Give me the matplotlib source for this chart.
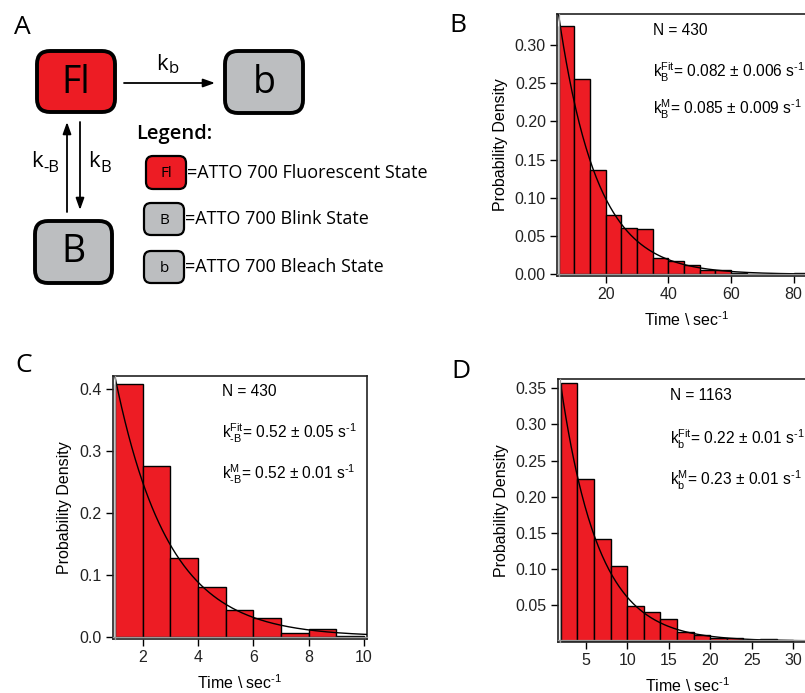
import numpy as np
import matplotlib
matplotlib.use("Agg")
import matplotlib.pyplot as plt
from matplotlib.patches import FancyBboxPatch
from matplotlib.lines import Line2D
import matplotlib.transforms as mtransforms

# ---------------- data ----------------
# Panel B: blink lifetime histogram (bin edges start, width 5 s)
b_edges = [5, 10, 15, 20, 25, 30, 35, 40, 45, 50, 55, 60, 65, 70, 75, 80]
b_heights = [0.325, 0.256, 0.137, 0.077, 0.061, 0.059, 0.022, 0.017, 0.012,
             0.006, 0.006, 0.002, 0.001, 0.001, 0.001, 0.002]
b_width = 5
b_fit_amp, b_fit_k = 0.512, 0.082
HY = "\u2010"  # hyphen glyph (short dash, as in the reference)
b_texts = ["N = 430",
           r"k$_\mathregular{B}^\mathregular{Fit}$= 0.082 ± 0.006 s$^\mathregular{" + HY + "1}$",
           r"k$_\mathregular{B}^\mathregular{M}$= 0.085 ± 0.009 s$^\mathregular{" + HY + "1}$"]
b_yticks = [0.00, 0.05, 0.10, 0.15, 0.20, 0.25, 0.30]
b_xticks = [20, 40, 60, 80]

# Panel C: recovery histogram (width 1 s)
c_edges = [1, 2, 3, 4, 5, 6, 7, 8, 9]
c_heights = [0.408, 0.276, 0.127, 0.080, 0.043, 0.031, 0.006, 0.012, 0.001]
c_width = 1
c_fit_amp, c_fit_k = 0.706, 0.52
c_texts = ["N = 430",
           r"k$_\mathregular{" + HY + r"B}^\mathregular{Fit}$= 0.52 ± 0.05 s$^\mathregular{" + HY + "1}$",
           r"k$_\mathregular{" + HY + r"B}^\mathregular{M}$= 0.52 ± 0.01 s$^\mathregular{" + HY + "1}$"]
c_yticks = [0.0, 0.1, 0.2, 0.3, 0.4]
c_xticks = [2, 4, 6, 8, 10]

# Panel D: bleach histogram (width 2 s)
d_edges = [2, 4, 6, 8, 10, 12, 14, 16, 18, 20, 22, 24, 26, 28]
d_heights = [0.357, 0.225, 0.142, 0.104, 0.049, 0.040, 0.031, 0.012, 0.008,
             0.005, 0.004, 0.002, 0.003, 0.001]
d_width = 2
d_fit_amp, d_fit_k = 0.551, 0.22
d_texts = ["N = 1163",
           r"k$_\mathregular{b}^\mathregular{Fit}$= 0.22 ± 0.01 s$^\mathregular{" + HY + "1}$",
           r"k$_\mathregular{b}^\mathregular{M}$= 0.23 ± 0.01 s$^\mathregular{" + HY + "1}$"]
d_yticks = [0.05, 0.10, 0.15, 0.20, 0.25, 0.30, 0.35]
d_xticks = [5, 10, 15, 20, 25, 30]

legend_items = [("Fl", "=ATTO 700 Fluorescent State"),
                ("B", "=ATTO 700 Blink State"),
                ("b", "=ATTO 700 Bleach State")]

RED = "#ED1C24"
GRAY = "#BCBEC0"
AXFONT = "Liberation Sans"
DIAFONT = "Open Sans"

plt.rcParams["font.family"] = [AXFONT, "DejaVu Sans"]
plt.rcParams["axes.unicode_minus"] = False

W, H = 805, 693
fig = plt.figure(figsize=(W / 100, H / 100), dpi=100)

def px_axes(left, top, right, bottom):
    return fig.add_axes([left / W, 1 - bottom / H, (right - left) / W, (bottom - top) / H])

def hist_panel(ax, edges, heights, width, amp, k, xlim, ylim, xticks, yticks,
               texts, text_x, text_ys, fmt, curve_end):
    ax.bar(edges, heights, width=width, align="edge", color=RED,
           edgecolor="black", linewidth=1.0, zorder=2)
    t = np.linspace(edges[0], curve_end, 300)
    ax.plot(t, amp * np.exp(-k * t), color="black", lw=1.0, zorder=3)
    ax.set_xlim(*xlim)
    ax.set_ylim(*ylim)
    ax.set_xticks(xticks)
    ax.set_yticks(yticks)
    ax.set_yticklabels([fmt.format(v) for v in yticks])
    ax.tick_params(direction="out", length=5, width=1.0, pad=3,
                   labelsize=11.5, labelcolor="#222222", top=False, right=False)
    for s in ax.spines.values():
        s.set_linewidth(1.2)
        s.set_color("#222222")
    # inner gray line (double-line frame look) along bottom and left
    off_up = mtransforms.offset_copy(ax.transAxes, fig=fig, x=0, y=1.8, units="dots")
    off_rt = mtransforms.offset_copy(ax.transAxes, fig=fig, x=1.8, y=0, units="dots")
    ax.add_line(Line2D([0, 1], [0, 0], transform=off_up, color="#9a9a9a", lw=0.9,
                       zorder=4, clip_on=False))
    ax.add_line(Line2D([0, 0], [0, 1], transform=off_rt, color="#9a9a9a", lw=0.9,
                       zorder=4, clip_on=False))
    ax.set_ylabel("Probability Density", fontsize=11.5, labelpad=5)
    ax.set_xlabel(r"Time \ sec$^\mathregular{" + HY + "1}$", fontsize=11.5, labelpad=6)
    for txt, ty in zip(texts, text_ys):
        ax.text(text_x, ty, txt, transform=ax.transAxes, fontsize=11.2,
                va="center", ha="left")

# Panel B
axB = px_axes(557, 14, 815.6, 276)
hist_panel(axB, b_edges, b_heights, b_width, b_fit_amp, b_fit_k,
           (4.5, 87), (-0.0022, 0.3406), b_xticks, b_yticks, b_texts,
           (653 - 557) / 258.6, [1 - (30 - 14) / 262, 1 - (72 - 14) / 262, 1 - (109 - 14) / 262],
           "{:.2f}", 87)

# Panel C
axC = px_axes(112.7, 376, 366.7, 639)
hist_panel(axC, c_edges, c_heights, c_width, c_fit_amp, c_fit_k,
           (0.915, 10.1), (-0.0037, 0.4215), c_xticks, c_yticks, c_texts,
           (222 - 112.7) / 254, [1 - (392 - 376) / 263, 1 - (433 - 376) / 263, 1 - (474 - 376) / 263],
           "{:.1f}", 10.1)

# Panel D
axD = px_axes(557.7, 379, 818, 641.7)
hist_panel(axD, d_edges, d_heights, d_width, d_fit_amp, d_fit_k,
           (1.63, 33), (-0.0008, 0.363), d_xticks, d_yticks, d_texts,
           (670 - 557.7) / 260.3, [1 - (395 - 379) / 262.7, 1 - (439 - 379) / 262.7, 1 - (480 - 379) / 262.7],
           "{:.2f}", 33)

# ---------------- Panel A diagram + panel letters ----------------
ov = fig.add_axes([0, 0, 1, 1], zorder=-1)
ov.set_xlim(0, W)
ov.set_ylim(H, 0)
ov.axis("off")

def rbox(x0, y0, x1, y1, color, lw, r):
    p = FancyBboxPatch((x0, y0), x1 - x0, y1 - y0,
                       boxstyle=f"round,pad=0,rounding_size={r}",
                       facecolor=color, edgecolor="black", linewidth=lw)
    ov.add_patch(p)

rbox(37, 51, 115, 112, RED, 2.8, 13)
ov.text(76, 83, "Fl", fontsize=27, family=DIAFONT, ha="center", va="center")
rbox(225, 51, 303, 113, GRAY, 2.8, 13)
ov.text(264, 83, "b", fontsize=27, family=DIAFONT, ha="center", va="center")
rbox(35, 221, 112, 283, GRAY, 2.8, 13)
ov.text(73.5, 252, "B", fontsize=27, family=DIAFONT, ha="center", va="center")

arrowkw = dict(arrowstyle="-|>,head_length=0.7,head_width=0.25", color="black",
               lw=1.3, shrinkA=0, shrinkB=0)
ov.annotate("", xy=(215, 83), xytext=(124, 83), arrowprops=arrowkw)
ov.annotate("", xy=(67, 122), xytext=(67, 212), arrowprops=arrowkw)
ov.annotate("", xy=(80, 210), xytext=(80, 122), arrowprops=arrowkw)

def klabel(x_k_right, base_k, sub, base_sub):
    ov.text(x_k_right, base_k, "k", fontsize=16, family=DIAFONT, ha="right", va="baseline")
    ov.text(x_k_right + 0.5, base_sub, sub, fontsize=12, family=DIAFONT, ha="left", va="baseline")

klabel(168, 70, "b", 73)
klabel(43, 167, "-B", 172)
klabel(100, 167, "B", 172)

ov.text(136, 134, "Legend:", fontsize=14.5, family=DIAFONT, fontweight="semibold",
        ha="left", va="center")
leg_boxes = [(146, 156, 186, 189, RED), (144, 203, 184, 235, GRAY), (144, 251, 184, 283, GRAY)]
for (sym, desc), (x0, y0, x1, y1, col) in zip(legend_items, leg_boxes):
    rbox(x0, y0, x1, y1, col, 1.6, 7)
    ov.text((x0 + x1) / 2, (y0 + y1) / 2 + 1, sym, fontsize=11, family=DIAFONT,
            ha="center", va="center")
    ov.text(x1 + 1, (y0 + y1) / 2, desc, fontsize=13, family=DIAFONT,
            ha="left", va="center")

for letter, (lx, ly) in zip("ABCD", [(22, 27), (458, 25), (24, 365), (461, 372)]):
    ov.text(lx, ly, letter, fontsize=19, family=DIAFONT, ha="center", va="center")

fig.savefig("out.png", dpi=100)
